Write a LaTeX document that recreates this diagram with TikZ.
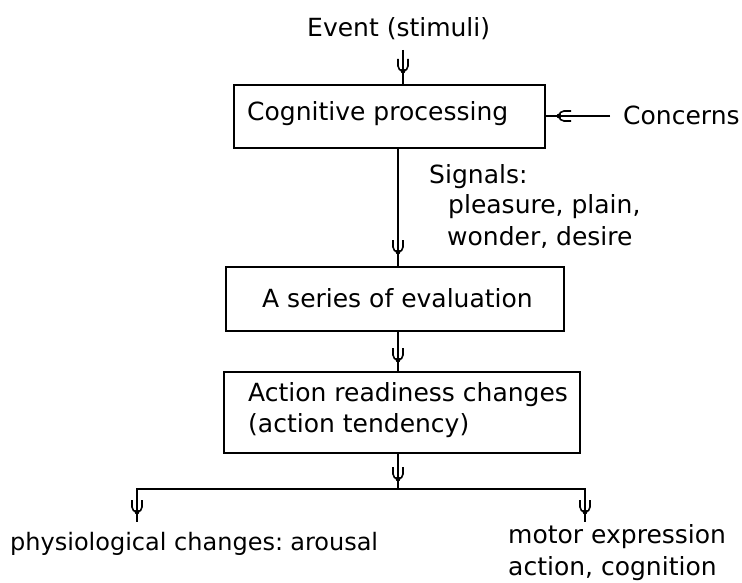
\documentclass[tikz,border=0pt]{standalone}
\usepackage{fontspec}
\setmainfont{DejaVu Sans}
\usetikzlibrary{decorations.markings}
\begin{document}
\begin{tikzpicture}[x=1pt,y=-1pt,
  every node/.style={font=\fontsize{25}{30}\selectfont, inner sep=0pt},
  box/.style={draw, line width=2pt, anchor=north west},
  lbl/.style={anchor=base west},
  conn/.style={line width=2pt},
  arrowmark/.style={postaction={decorate},
    decoration={markings, mark=at position #1 with {
      \draw[line width=1.6pt] (-12pt,5pt) -- (-5pt,5pt) .. controls (-2.2pt,5pt) and (0pt,2.8pt) .. (0pt,0pt);
      \draw[line width=1.6pt] (-12pt,-5pt) -- (-5pt,-5pt) .. controls (-2.2pt,-5pt) and (0pt,-2.8pt) .. (0pt,0pt);
      \fill (0pt,0pt) circle (2.4pt);
    }}},
]
\useasboundingbox (0,0) rectangle (742,583);
\fill[white] (0,0) rectangle (742,583);

% boxes
\node[box, minimum width=311pt, minimum height=63pt] (b1) at (233,84) {};
\node[box, minimum width=338pt, minimum height=64pt] (b2) at (225,266) {};
\node[box, minimum width=356pt, minimum height=81pt] (b3) at (223,371) {};

% texts
\node[lbl] (tev) at (307,37) {Event (stimuli)};
\node[lbl] (t1) at (247,121) {Cognitive processing};
\node[lbl] (tcon) at (623,125) {Concerns};
\node[lbl] (sig1) at (429,183) {Signals:};
\node[lbl] (sig2) at (448,214) {pleasure, plain,};
\node[lbl] (sig3) at (447,245) {wonder, desire};
\node[lbl] (t2) at (262,307) {A series of evaluation};
\node[lbl] (t3a) at (248,401) {Action readiness changes};
\node[lbl] (t3b) at (248,432) {(action tendency)};
\node[lbl, font=\fontsize{24}{29}\selectfont] (phys) at (10,550) {physiological changes:\hspace{-3pt} arousal};
\node[lbl] (mot1) at (508,543) {motor expression};
\node[lbl] (mot2) at (508,575) {action, cognition};

% coordinates
\coordinate (ev) at (403,50);
\coordinate (cn) at (610,116);
\coordinate (spine) at (398,0);
\coordinate (j) at (398,489);
\coordinate (jl) at (137,489);
\coordinate (jr) at (585,489);
\coordinate (el) at (137,522);
\coordinate (er) at (585,522);

% connectors
\draw[conn, arrowmark=-13pt] (ev) -- (ev |- b1.north);
\draw[conn, arrowmark=-13pt] (cn) -- (cn -| b1.east);
\draw[conn, arrowmark=-14pt] (b1.south -| spine) -- (b2.north -| spine);
\draw[conn, arrowmark=-11pt] (b2.south -| spine) -- (b3.north -| spine);
\draw[conn, arrowmark=-10pt] (b3.south -| j) -- (j);
\draw[conn, arrowmark=-10pt] (j) -- (jl) -- (el);
\draw[conn, arrowmark=-10pt] (j) -- (jr) -- (er);
\end{tikzpicture}
\end{document}
